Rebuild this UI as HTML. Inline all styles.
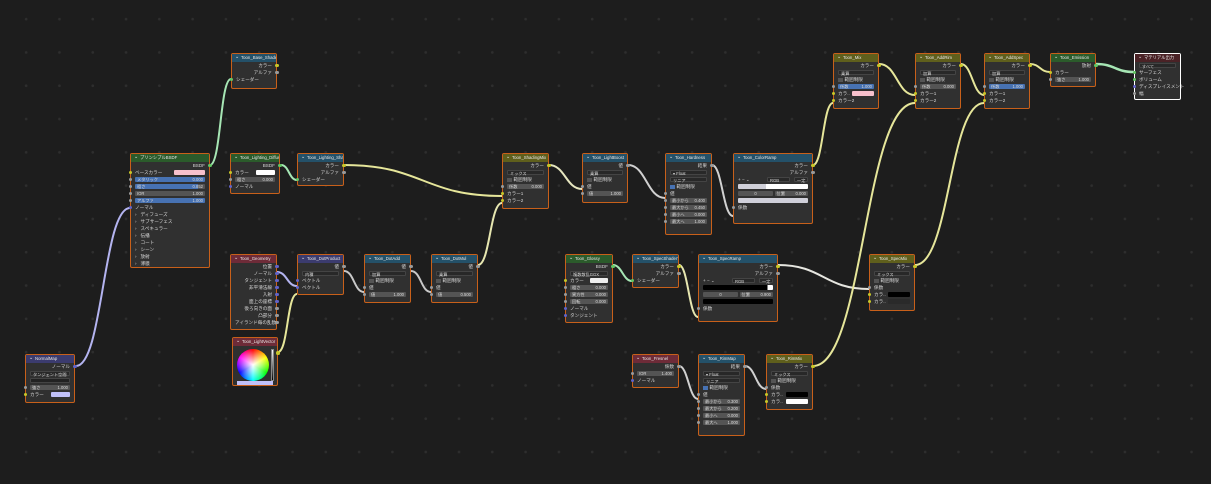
<!DOCTYPE html>
<html><head><meta charset="utf-8">
<style>
*{box-sizing:border-box;margin:0;padding:0}
body{width:1211px;height:484px;overflow:hidden;background:#1d1d1d;position:relative;
background-image:radial-gradient(circle,#2e2e2e 1.1px,transparent 1.6px);background-size:33.3px 33.3px;background-position:9.5px 2.5px;
font-family:"Liberation Sans","Noto Sans CJK JP",sans-serif}
svg{position:absolute;left:0;top:0}
.n{position:absolute;background:#303030;border:1px solid #c8601a;border-radius:2px;font-size:4.6px;color:#d8d8d8;z-index:2}
.h{height:8px;line-height:8px;padding-left:9px;color:#e8e8e8;font-size:4.3px;white-space:nowrap;overflow:hidden;position:relative}
.h:before{content:"⌄";position:absolute;left:3px;top:-1.5px;font-size:5px}
.g{background:#2b5b2b}.b{background:#245169}.rd{background:#6e2b38}.p{background:#3b3b6e}.y{background:#5f5f1c}.mo{background:#4a2226}
.r{height:7px;line-height:7px;position:relative;padding:0 4px;white-space:nowrap}
.o{text-align:right}
.s{position:absolute;width:3.5px;height:3.5px;border-radius:50%;top:1.7px}
.L{left:-2.5px}.R{right:-2.5px}
.sy{background:#c7c729}.sg{background:#9a9a9a}.sn{background:#63c763}.sp{background:#6363c7}
.f{position:absolute;left:4px;right:4px;top:.7px;height:5.6px;line-height:5.6px;background:#545454;border-radius:1px;padding:0 2px;font-size:4.2px}
.f.bl{background:#4772b3}
.f i{float:right;font-style:normal}
.d{position:absolute;left:4px;right:4px;top:.7px;height:5.6px;line-height:5.6px;background:#282828;border:0.5px solid #444;border-radius:1px;padding:0 2px;font-size:4.2px}
.cb{display:inline-block;width:4.5px;height:4.5px;background:#545454;vertical-align:-1px;margin-right:2px}
.cb.on{background:#4772b3}
.sw{position:absolute;right:4px;top:1px;width:40%;height:5px;border-radius:1px}
.ar:before{content:"›";margin-right:4px}
</style></head><body>
<svg width="1211" height="484" fill="none" stroke-width="2">
<path d="M76 366 C103 366,103 208,130 208" stroke="#b4b4f0"/>
<path d="M210 165 C221 165,220 79,231 79" stroke="#a6e6b4"/>
<path d="M281 165 C289 165,289 180,297 180" stroke="#a6e6b4"/>
<path d="M344 165 C423 165,423 196,502 196" stroke="#e6e69a"/>
<path d="M277 272 C287 272,287 286,297 286" stroke="#b4b4f0"/>
<path d="M278 352 C288 352,287 294,297 294" stroke="#e6e69a"/>
<path d="M344 271 C354 271,354 292,364 292" stroke="#c8c8c8"/>
<path d="M411 271 C421 271,421 292,431 292" stroke="#c8c8c8"/>
<path d="M478 265 C490 265,490 203,502 203" stroke="#e6e6b0"/>
<path d="M549 165 C565 165,566 189,582 189" stroke="#e6e6c0"/>
<path d="M628 165 C646 165,647 198,665 198" stroke="#d0d0d0"/>
<path d="M712 165 C722 165,723 216,733 216" stroke="#d0d0d0"/>
<path d="M813 165 C823 165,823 103,833 103" stroke="#e6e69a"/>
<path d="M879 64 C897 64,897 95,915 95" stroke="#e6e69a"/>
<path d="M961 64 C972 64,973 95,984 95" stroke="#e6e69a"/>
<path d="M1030 64 C1040 64,1040 72,1050 72" stroke="#e6e69a"/>
<path d="M1096 64 C1115 64,1115 72,1134 72" stroke="#a6e6b4" stroke-width="2.5"/>
<path d="M613 265 C622 265,623 281,632 281" stroke="#a6e6b4"/>
<path d="M679 265 C688 265,689 317,698 317" stroke="#e6e6b0"/>
<path d="M778 265 C823 265,824 289,869 289" stroke="#e6e6e0"/>
<path d="M915 265 C950 265,949 103,984 103" stroke="#e6e69a"/>
<path d="M679 366 C688 366,689 399,698 399" stroke="#d0d0d0"/>
<path d="M745 366 C755 366,756 389,766 389" stroke="#d0d0d0"/>
<path d="M813 366 C864 366,864 103,915 103" stroke="#e6e69a"/>
</svg>

<div class="n" style="left:231px;top:53px;width:46px;height:36px"><div class="h b">Toon_Base_Shader</div>
<div class="r o">カラー<span class="s R sy"></span></div><div class="r o">アルファ<span class="s R sg"></span></div><div class="r">シェーダー<span class="s L sn"></span></div></div>

<div class="n" style="left:130px;top:153px;width:80px;height:115px"><div class="h g">プリンシプルBSDF</div>
<div class="r o">BSDF<span class="s R sn"></span></div>
<div class="r">ベースカラー<span class="sw" style="background:#f7c0cc"></span><span class="s L sy"></span></div>
<div class="r"><div class="f bl">メタリック<i>0.000</i></div><span class="s L sg"></span></div>
<div class="r"><div class="f bl" style="background:linear-gradient(90deg,#4772b3 90%,#545454 90%)">粗さ<i>0.852</i></div><span class="s L sg"></span></div>
<div class="r"><div class="f">IOR<i>1.000</i></div><span class="s L sg"></span></div>
<div class="r"><div class="f bl">アルファ<i>1.000</i></div><span class="s L sg"></span></div>
<div class="r">ノーマル<span class="s L sp"></span></div>
<div class="r ar">ディフューズ</div><div class="r ar">サブサーフェス</div><div class="r ar">スペキュラー</div><div class="r ar">伝播</div><div class="r ar">コート</div><div class="r ar">シーン</div><div class="r ar">放射</div><div class="r ar">薄膜</div></div>

<div class="n" style="left:230px;top:153px;width:50px;height:41px"><div class="h g">Toon_Lighting_Diffuse</div>
<div class="r o">BSDF<span class="s R sn"></span></div>
<div class="r">カラー<span class="sw" style="background:#fff"></span><span class="s L sy"></span></div>
<div class="r"><div class="f">粗さ<i>0.000</i></div><span class="s L sg"></span></div>
<div class="r">ノーマル<span class="s L sp"></span></div></div>

<div class="n" style="left:297px;top:153px;width:47px;height:33px"><div class="h b">Toon_Lighting_Sha..</div>
<div class="r o">カラー<span class="s R sy"></span></div><div class="r o">アルファ<span class="s R sg"></span></div><div class="r">シェーダー<span class="s L sn"></span></div></div>

<div class="n" style="left:230px;top:254px;width:47px;height:76px"><div class="h rd">Toon_Geometry</div>
<div class="r o">位置<span class="s R sp"></span></div><div class="r o">ノーマル<span class="s R sp"></span></div><div class="r o">タンジェント<span class="s R sp"></span></div><div class="r o">非平滑法線<span class="s R sp"></span></div><div class="r o">入射<span class="s R sp"></span></div><div class="r o">面上の座標<span class="s R sp"></span></div><div class="r o">後ろ向きの面<span class="s R sg"></span></div><div class="r o">凸部分<span class="s R sg"></span></div><div class="r o">アイランド毎の乱数<span class="s R sg"></span></div></div>

<div class="n" style="left:232px;top:337px;width:46px;height:49px"><div class="h rd">Toon_LightVector</div>
<div style="position:absolute;left:4px;top:11px;width:32px;height:32px;border-radius:50%;background:radial-gradient(circle,#fff 0,rgba(255,255,255,0) 70%),conic-gradient(#f00,#ff0,#0f0,#0ff,#00f,#f0f,#f00)"></div>
<div style="position:absolute;left:38px;top:11px;width:3px;height:32px;background:linear-gradient(#fff,#000);border:0.5px solid #888"></div>
<div style="position:absolute;left:4px;right:4px;top:43px;height:4px;background:#c0c0f8"></div>
<span class="s R sy" style="top:13px"></span></div>

<div class="n" style="left:297px;top:254px;width:47px;height:41px"><div class="h p">Toon_DotProduct</div>
<div class="r o">値<span class="s R sg"></span></div><div class="r"><div class="d">内積</div></div>
<div class="r">ベクトル<span class="s L sp"></span></div><div class="r">ベクトル<span class="s L sp"></span></div></div>

<div class="n" style="left:364px;top:254px;width:47px;height:49px"><div class="h b">Toon_DotAdd</div>
<div class="r o">値<span class="s R sg"></span></div><div class="r"><div class="d">加算</div></div>
<div class="r"><span class="cb"></span>範囲制限</div><div class="r">値<span class="s L sg"></span></div><div class="r"><div class="f">値<i>1.000</i></div><span class="s L sg"></span></div></div>

<div class="n" style="left:431px;top:254px;width:47px;height:49px"><div class="h b">Toon_DotMul</div>
<div class="r o">値<span class="s R sg"></span></div><div class="r"><div class="d">乗算</div></div>
<div class="r"><span class="cb"></span>範囲制限</div><div class="r">値<span class="s L sg"></span></div><div class="r"><div class="f">値<i>0.500</i></div><span class="s L sg"></span></div></div>

<div class="n" style="left:25px;top:354px;width:50px;height:49px"><div class="h p">NormalMap</div>
<div class="r o">ノーマル<span class="s R sp"></span></div><div class="r"><div class="d">タンジェント空間</div></div>
<div class="r"><div class="d" style="background:#222"></div></div>
<div class="r"><div class="f">強さ<i>1.000</i></div><span class="s L sg"></span></div>
<div class="r">カラー<span class="sw" style="background:#c0c0f8"></span><span class="s L sy"></span></div></div>

<div class="n" style="left:502px;top:153px;width:47px;height:56px"><div class="h y">Toon_ShadingMix</div>
<div class="r o">カラー<span class="s R sy"></span></div><div class="r"><div class="d">ミックス</div></div>
<div class="r"><span class="cb"></span>範囲制限</div><div class="r"><div class="f">係数<i>0.000</i></div><span class="s L sg"></span></div>
<div class="r">カラー1<span class="s L sy"></span></div><div class="r">カラー2<span class="s L sy"></span></div></div>

<div class="n" style="left:582px;top:153px;width:46px;height:50px"><div class="h b">Toon_LightBoost</div>
<div class="r o">値<span class="s R sg"></span></div><div class="r"><div class="d">乗算</div></div>
<div class="r"><span class="cb"></span>範囲制限</div><div class="r">値<span class="s L sg"></span></div><div class="r"><div class="f">値<i>1.000</i></div><span class="s L sg"></span></div></div>

<div class="n" style="left:665px;top:153px;width:47px;height:82px"><div class="h b">Toon_Hardness</div>
<div class="r o">結果<span class="s R sg"></span></div><div class="r"><div class="d">▾ Float</div></div><div class="r"><div class="d">リニア</div></div>
<div class="r"><span class="cb on"></span>範囲制限</div><div class="r">値<span class="s L sg"></span></div>
<div class="r"><div class="f">最小から<i>0.400</i></div><span class="s L sg"></span></div><div class="r"><div class="f">最大から<i>0.450</i></div><span class="s L sg"></span></div>
<div class="r"><div class="f">最小へ<i>0.000</i></div><span class="s L sg"></span></div><div class="r"><div class="f">最大へ<i>1.000</i></div><span class="s L sg"></span></div></div>

<div class="n" style="left:733px;top:153px;width:80px;height:71px"><div class="h b">Toon_ColorRamp</div>
<div class="r o">カラー<span class="s R sy"></span></div><div class="r o">アルファ<span class="s R sg"></span></div>
<div class="r">+ − ⌄<div class="d" style="left:33px;right:22px">RGB</div><div class="d" style="left:60px">一定</div></div>
<div class="r"><div class="f" style="background:linear-gradient(90deg,#cfcfd8 40%,#fff 40%)"></div></div>
<div class="r"><div class="f" style="right:50%;text-align:center">0</div><div class="f" style="left:52%">位置<i>0.000</i></div></div>
<div class="r"><div class="f" style="background:#d0d0da"></div></div>
<div class="r">係数<span class="s L sg"></span></div></div>

<div class="n" style="left:565px;top:254px;width:48px;height:69px"><div class="h g">Toon_Glossy</div>
<div class="r o">BSDF<span class="s R sn"></span></div><div class="r"><div class="d">複数散乱GGX</div></div>
<div class="r">カラー<span class="sw" style="background:#eee"></span><span class="s L sy"></span></div>
<div class="r"><div class="f">粗さ<i>0.000</i></div><span class="s L sg"></span></div><div class="r"><div class="f">異方性<i>0.000</i></div><span class="s L sg"></span></div><div class="r"><div class="f">回転<i>0.000</i></div><span class="s L sg"></span></div>
<div class="r">ノーマル<span class="s L sp"></span></div><div class="r">タンジェント<span class="s L sp"></span></div></div>

<div class="n" style="left:632px;top:254px;width:47px;height:34px"><div class="h b">Toon_SpecShaderT..</div>
<div class="r o">カラー<span class="s R sy"></span></div><div class="r o">アルファ<span class="s R sg"></span></div><div class="r">シェーダー<span class="s L sn"></span></div></div>

<div class="n" style="left:698px;top:254px;width:80px;height:68px"><div class="h b">Toon_SpecRamp</div>
<div class="r o">カラー<span class="s R sy"></span></div><div class="r o">アルファ<span class="s R sg"></span></div>
<div class="r">+ − ⌄<div class="d" style="left:33px;right:22px">RGB</div><div class="d" style="left:60px">一定</div></div>
<div class="r"><div class="f" style="background:linear-gradient(90deg,#000 92%,#fff 92%)"></div></div>
<div class="r"><div class="f" style="right:50%;text-align:center">0</div><div class="f" style="left:52%">位置<i>0.900</i></div></div>
<div class="r"><div class="f" style="background:#000"></div></div>
<div class="r">係数<span class="s L sg"></span></div></div>

<div class="n" style="left:869px;top:254px;width:46px;height:57px"><div class="h y">Toon_SpecMix</div>
<div class="r o">カラー<span class="s R sy"></span></div><div class="r"><div class="d">ミックス</div></div>
<div class="r"><span class="cb"></span>範囲制限</div><div class="r">係数<span class="s L sg"></span></div>
<div class="r">カラ..<span class="sw" style="background:#000;width:50%"></span><span class="s L sy"></span></div><div class="r">カラ..<span class="sw" style="background:#2a2a2a;width:50%"></span><span class="s L sy"></span></div></div>

<div class="n" style="left:632px;top:354px;width:47px;height:34px"><div class="h rd">Toon_Fresnel</div>
<div class="r o">係数<span class="s R sg"></span></div><div class="r"><div class="f">IOR<i>1.400</i></div><span class="s L sg"></span></div><div class="r">ノーマル<span class="s L sp"></span></div></div>

<div class="n" style="left:698px;top:354px;width:47px;height:82px"><div class="h b">Toon_RimMap</div>
<div class="r o">結果<span class="s R sg"></span></div><div class="r"><div class="d">▾ Float</div></div><div class="r"><div class="d">リニア</div></div>
<div class="r"><span class="cb on"></span>範囲制限</div><div class="r">値<span class="s L sg"></span></div>
<div class="r"><div class="f">最小から<i>0.300</i></div><span class="s L sg"></span></div><div class="r"><div class="f">最大から<i>0.200</i></div><span class="s L sg"></span></div>
<div class="r"><div class="f">最小へ<i>0.000</i></div><span class="s L sg"></span></div><div class="r"><div class="f">最大へ<i>1.000</i></div><span class="s L sg"></span></div></div>

<div class="n" style="left:766px;top:354px;width:47px;height:56px"><div class="h y">Toon_RimMix</div>
<div class="r o">カラー<span class="s R sy"></span></div><div class="r"><div class="d">ミックス</div></div>
<div class="r"><span class="cb"></span>範囲制限</div><div class="r">係数<span class="s L sg"></span></div>
<div class="r">カラ..<span class="sw" style="background:#000;width:50%"></span><span class="s L sy"></span></div><div class="r">カラ..<span class="sw" style="background:#fff;width:50%"></span><span class="s L sy"></span></div></div>

<div class="n" style="left:833px;top:53px;width:46px;height:56px"><div class="h y">Toon_Mix</div>
<div class="r o">カラー<span class="s R sy"></span></div><div class="r"><div class="d">乗算</div></div>
<div class="r"><span class="cb"></span>範囲制限</div><div class="r"><div class="f bl">係数<i>1.000</i></div><span class="s L sg"></span></div>
<div class="r">カラ..<span class="sw" style="background:#f7c0cc;width:50%"></span><span class="s L sy"></span></div><div class="r">カラー2<span class="s L sy"></span></div></div>

<div class="n" style="left:915px;top:53px;width:46px;height:56px"><div class="h y">Toon_AddRim</div>
<div class="r o">カラー<span class="s R sy"></span></div><div class="r"><div class="d">加算</div></div>
<div class="r"><span class="cb"></span>範囲制限</div><div class="r"><div class="f">係数<i>0.000</i></div><span class="s L sg"></span></div>
<div class="r">カラー1<span class="s L sy"></span></div><div class="r">カラー2<span class="s L sy"></span></div></div>

<div class="n" style="left:984px;top:53px;width:46px;height:56px"><div class="h y">Toon_AddSpec</div>
<div class="r o">カラー<span class="s R sy"></span></div><div class="r"><div class="d">加算</div></div>
<div class="r"><span class="cb"></span>範囲制限</div><div class="r"><div class="f bl">係数<i>1.000</i></div><span class="s L sg"></span></div>
<div class="r">カラー1<span class="s L sy"></span></div><div class="r">カラー2<span class="s L sy"></span></div></div>

<div class="n" style="left:1050px;top:53px;width:46px;height:34px"><div class="h g">Toon_Emission</div>
<div class="r o">放射<span class="s R sn"></span></div><div class="r">カラー<span class="s L sy"></span></div><div class="r"><div class="f">強さ<i>1.000</i></div><span class="s L sg"></span></div></div>

<div class="n" style="left:1134px;top:53px;width:47px;height:47px;border-color:#fff"><div class="h mo">マテリアル出力</div>
<div class="r"><div class="d">すべて</div></div><div class="r">サーフェス<span class="s L sn"></span></div><div class="r">ボリューム<span class="s L sn"></span></div><div class="r">ディスプレイスメント<span class="s L sp"></span></div><div class="r">幅<span class="s L sg"></span></div></div>
</body></html>
